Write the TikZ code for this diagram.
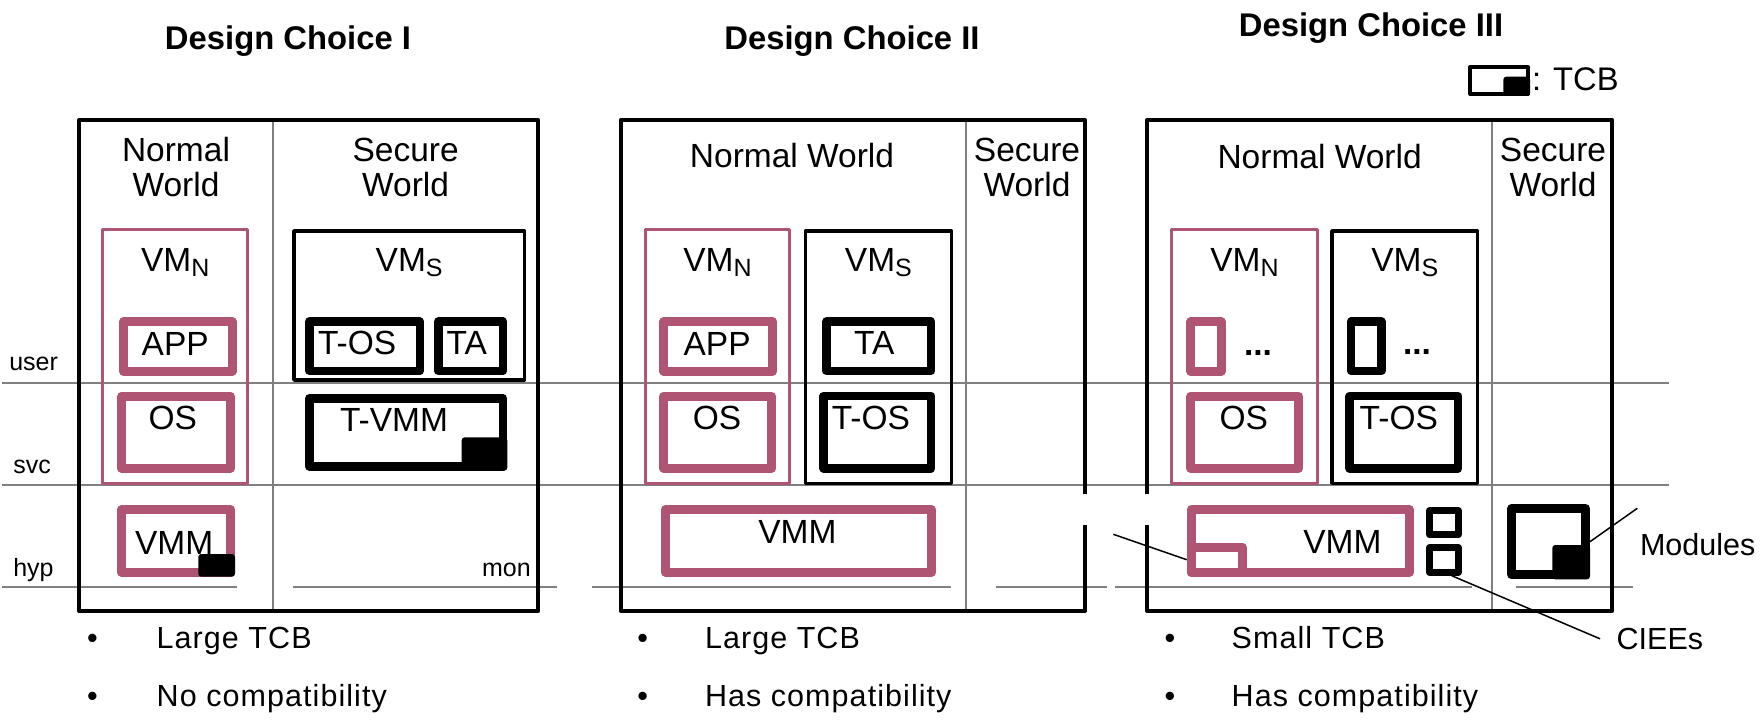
\documentclass[tikz,border=0pt]{standalone}
\usepackage{fontspec}
\setmainfont{Liberation Sans}
\newfontfamily\bulfont{Liberation Sans}[LetterSpace=3.5]
\usetikzlibrary{fit}
\definecolor{pinkc}{RGB}{175,84,114}
\definecolor{grayc}{RGB}{128,128,128}
\newcommand\vmsub[1]{VM\raisebox{-5pt}{\fontsize{25}{25}\selectfont #1}}
\begin{document}
\begin{tikzpicture}[x=1pt,y=-1pt,
  lbl/.style={inner sep=0pt, outer sep=0pt, font=\fontsize{33.5}{40}\selectfont},
  ttl/.style={inner sep=0pt, outer sep=0pt, font=\fontsize{32.8}{40}\selectfont\bfseries},
  sml/.style={inner sep=0pt, outer sep=0pt, font=\fontsize{25}{30}\selectfont},
  bul/.style={inner sep=0pt, outer sep=0pt, font=\bulfont\fontsize{30.5}{36}\selectfont},
  cal/.style={inner sep=0pt, outer sep=0pt, font=\fontsize{30.5}{36}\selectfont},
  frm/.style={draw, line width=4pt, line join=round},
  divl/.style={draw=grayc, line width=1.8pt},
  lvl/.style={draw=grayc, line width=2pt},
  fbox/.style={draw, inner sep=0pt, line join=round},
  vmnbox/.style={fbox, draw=pinkc, line width=3pt},
  vmsbox/.style={fbox, draw=black, line width=3.5pt},
  pbox/.style={fbox, draw=pinkc, line width=9pt},
  bbox/.style={fbox, draw=black, line width=8.5pt},
  cbox/.style={fbox, draw=black, line width=7pt},
  tcbmark/.style={fill=black, rounded corners=3pt},
  conn/.style={draw=black, line width=1.5pt},
]
\useasboundingbox (0,0) rectangle (1760,722);
\fill[white] (0,0) rectangle (1760,722);

% privilege level lines
\draw[lvl] (2,383.3) -- (1669,383.3);
\draw[lvl] (2,484.7) -- (1669,484.7);
\draw[lvl] (2,587.3) -- (236.7,587.3);
\draw[lvl] (292.7,587.3) -- (557.3,587.3);
\draw[lvl] (592.3,587.3) -- (950.7,587.3);
\draw[lvl] (995.7,587.3) -- (1107.3,587.3);
\draw[lvl] (1115,587.3) -- (1471.7,587.3);
\draw[lvl] (1516,587.3) -- (1633.3,587.3);

% world dividers
\draw[divl] (273,120) -- (273,611);
\draw[divl] (965.7,120) -- (965.7,611);
\draw[divl] (1492,120) -- (1492,611);

% frames
\draw[frm] (79,120) rectangle (538.3,611);
\draw[frm] (1085,494) -- (1085,120) -- (620.7,120) -- (620.7,611) -- (1085,611) -- (1085,525);
\draw[frm] (1147.3,494) -- (1147.3,120) -- (1612.3,120) -- (1612.3,611) -- (1147.3,611) -- (1147.3,525);

% titles
\node[ttl, anchor=base] (title1) at (288,50) {Design Choice I};
\node[ttl, anchor=base] (title2) at (852,50) {Design Choice II};
\node[ttl, anchor=base] (title3) at (1371,36.7) {Design Choice III};

% legend
\node[fbox, draw=black, line width=4pt, fit={(1470.3,67)(1528,94)}] (tcbbox) {};
\fill[tcbmark] (1503.3,76.7) rectangle (1530,96);
\node[lbl, font=\fontsize{32.7}{40}\selectfont, anchor=base west] (tcbl) at (1532,90.7) {: TCB};

% level labels
\node[sml, anchor=base west] (user) at (9.3,370.7) {user};
\node[sml, anchor=base west] (svc) at (13.3,473.3) {svc};
\node[sml, anchor=base west] (hyp) at (13.3,576.7) {hyp};
\node[sml, anchor=base east] (mon) at (530.7,576.7) {mon};

% ===== Design I =====
\node[lbl, anchor=base] (nw1a) at (176,161.7) {Normal};
\node[lbl, anchor=base] (nw1b) at (176,196.7) {World};
\node[lbl, anchor=base] (sw1a) at (405.6,161.7) {Secure};
\node[lbl, anchor=base] (sw1b) at (405.6,196.7) {World};
\node[vmnbox, fit={(102.5,229.8)(247.8,483.5)}] (vmn1) {};
\node[pbox, fit={(123.5,321.8)(232.2,371.2)}] (app1) {};
\node[pbox, fit={(121.8,396.2)(230.5,468.2)}] (os1) {};
\node[pbox, fit={(121.8,509.5)(230.5,572.2)}] (vmm1) {};
\fill[tcbmark] (198.3,554) rectangle (235,576.7);
\node[vmsbox, fit={(294,231)(524.5,380)}] (vms1) {};
\node[bbox, fit={(309.3,321.6)(419.8,370.8)}] (tos1) {};
\node[bbox, fit={(438.3,321.6)(503,370.8)}] (ta1) {};
\node[bbox, fit={(309.3,398.3)(503,466.4)}] (tvmm1) {};
\fill[tcbmark] (461.7,437.3) rectangle (507.3,470.7);
\node[lbl, anchor=base] (vmn1t) at (175.2,271.7) {\vmsub{N}};
\node[lbl, anchor=base] (vms1t) at (409.2,271.7) {\vmsub{S}};
\node[lbl, anchor=base west] (app1t) at (141.7,355.7) {APP};
\node[lbl, anchor=base west] (os1t) at (148.5,429.3) {OS};
\node[lbl, anchor=base west] (vmm1t) at (135,554) {VMM};
\node[lbl, anchor=base west] (tos1t) at (318,354) {T-OS};
\node[lbl, anchor=base west] (ta1t) at (446.7,354) {TA};
\node[lbl, anchor=base west] (tvmm1t) at (340,431) {T-VMM};
\node[bul, anchor=base] (b1a) at (92.5,648.3) {•};
\node[bul, anchor=base west] (t1a) at (156.7,648.3) {Large TCB};
\node[bul, anchor=base] (b1b) at (92.5,706.7) {•};
\node[bul, anchor=base west] (t1b) at (156.7,706.7) {No compatibility};

% ===== Design II =====
\node[lbl, anchor=base] (nw2) at (792,167.7) {Normal World};
\node[lbl, anchor=base] (sw2a) at (1027,161.7) {Secure};
\node[lbl, anchor=base] (sw2b) at (1027,196.7) {World};
\node[vmnbox, fit={(645.1,229.8)(789.9,483.5)}] (vmn2) {};
\node[pbox, fit={(663.8,321.8)(772.6,371.2)}] (app2) {};
\node[pbox, fit={(663.8,396.2)(771.9,468.2)}] (os2) {};
\node[vmsbox, fit={(805.3,231)(951.5,483.3)}] (vms2) {};
\node[bbox, fit={(826.4,321.6)(931.2,370.8)}] (ta2) {};
\node[bbox, fit={(823.6,396)(931.2,468.4)}] (tos2) {};
\node[pbox, fit={(665.5,509.5)(931.5,572.2)}] (vmm2) {};
\node[lbl, anchor=base] (vmn2t) at (717.5,271.7) {\vmsub{N}};
\node[lbl, anchor=base] (vms2t) at (878.4,271.7) {\vmsub{S}};
\node[lbl, anchor=base west] (app2t) at (683.6,355.7) {APP};
\node[lbl, anchor=base west] (os2t) at (692.8,429.3) {OS};
\node[lbl, anchor=base west] (ta2t) at (854,354) {TA};
\node[lbl, anchor=base west] (tos2t) at (831.8,429.3) {T-OS};
\node[lbl, anchor=base west] (vmm2t) at (758.3,543.3) {VMM};
\node[bul, anchor=base] (b2a) at (642.7,648.3) {•};
\node[bul, anchor=base west] (t2a) at (705,648.3) {Large TCB};
\node[bul, anchor=base] (b2b) at (642.7,706.7) {•};
\node[bul, anchor=base west] (t2b) at (705,706.7) {Has compatibility};

% ===== Design III =====
\node[lbl, anchor=base] (nw3) at (1319.6,168) {Normal World};
\node[lbl, anchor=base] (sw3a) at (1553,161.7) {Secure};
\node[lbl, anchor=base] (sw3b) at (1553,196.7) {World};
\node[vmnbox, fit={(1171.3,229.8)(1317.7,483.5)}] (vmn3) {};
\node[vmsbox, fit={(1332,231)(1477.5,483.3)}] (vms3) {};
\node[pbox, fit={(1190.8,321.8)(1221,371.2)}] (app3) {};
\node[bbox, fit={(1351,321.6)(1381.4,370.8)}] (ta3) {};
\node[pbox, fit={(1190.7,396.2)(1298.8,468.2)}] (os3) {};
\node[bbox, fit={(1349.7,396)(1458.2,468.4)}] (tos3) {};
\node[pbox, fit={(1191.2,509.5)(1409.5,572.2)}] (vmm3) {};
\node[pbox, fit={(1191.2,547.2)(1242.2,572.2)}] (inner3) {};
\node[cbox, fit={(1429.5,510.8)(1458.2,534.8)}] (ciee1) {};
\node[cbox, fit={(1429.5,547.8)(1458.2,572.2)}] (ciee2) {};
\node[pbox, draw=black, fit={(1511.8,508.5)(1585.5,574.8)}] (mod) {};
\fill[tcbmark] (1552.3,545) rectangle (1590,579.3);
\node[lbl, anchor=base] (vmn3t) at (1244.5,271.7) {\vmsub{N}};
\node[lbl, anchor=base] (vms3t) at (1404.7,271.7) {\vmsub{S}};
\node[lbl, anchor=base west] (dots3a) at (1244,355) {\textbf{...}};
\node[lbl, anchor=base west] (dots3b) at (1403,354) {\textbf{...}};
\node[lbl, anchor=base west] (os3t) at (1219.5,429.3) {OS};
\node[lbl, anchor=base west] (tos3t) at (1359.7,429.3) {T-OS};
\node[lbl, anchor=base west] (vmm3t) at (1303.3,553.3) {VMM};
\node[cal, anchor=base west] (mods) at (1640,555) {Modules};
\node[cal, anchor=base west, inner xsep=16.7pt] (ciees) at (1600,649.3) {CIEEs};
\node[bul, anchor=base] (b3a) at (1170,648.3) {•};
\node[bul, anchor=base west] (t3a) at (1231.7,648.3) {Small TCB};
\node[bul, anchor=base] (b3b) at (1170,706.7) {•};
\node[bul, anchor=base west] (t3b) at (1231.7,706.7) {Has compatibility};

% connectors
\coordinate (vfree) at (1113.3,534.3);
\draw[conn] (vfree) -- (inner3.west);
\draw[conn] ([xshift=-10pt]ciee2.south east) -- (ciees.west);
\coordinate (mfree) at (1637.3,508.3);
\draw[conn] (mod.east) -- (mfree);
\end{tikzpicture}
\end{document}
